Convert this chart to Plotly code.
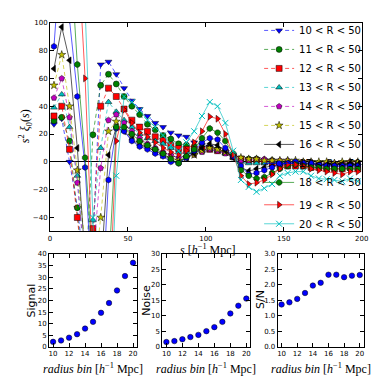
import plotly.graph_objects as go

# separation bins (centres), h^-1 Mpc
s_bins = [2.5, 7.5, 12.5, 17.5, 22.5, 27.5, 32.5, 37.5, 42.5, 47.5,
          52.5, 57.5, 62.5, 67.5, 72.5, 77.5, 82.5, 87.5, 92.5, 97.5,
          102.5, 107.5, 112.5, 117.5, 122.5, 127.5, 132.5, 137.5, 142.5, 147.5,
          152.5, 157.5, 162.5, 167.5, 172.5, 177.5, 182.5, 187.5, 192.5, 197.5]

r_min = [10, 11, 12, 13, 14, 15, 16, 17, 18, 19, 20]

# s^2 xi_0(s) for each R_min < R < 50 sample
xi_10 = [27, 31, 0, -33, -80, -60, 70, 72, 63, 53, 44, 38, 33, 28, 25, 21, 19,
         18, 14, 12, 11, 9, 7, 5,
         3, 2, 2, 1, 0, -1, -1, -2, -2, -2, -3, -2, -3, -3, -2, -3]
xi_11 = [29.5, 32, 15, -33, -90, 19.5, 55, 63, 56, 47, 40, 34, 27, 23, 19, 16.4, 13,
         12, 11, 10, 10, 9, 7, 4,
         2, 2, 2, 1, 1, 0, 0, 0, -1, -1, -1, -2, -2, -1, -2, -2]
xi_12 = [33, 40, 9, -40, -90, -48, 40, 53, 47, 38, 30, 25, 21.8, 18, 15.3, 12, 9.6,
         9, 9, 9, 9, 8, 7, 4,
         2, 1, 1, 0, -1, -2, -3, -3, -3, -4, -4, -5, -5, -5, -4, -5]
xi_13 = [39, 48.5, 25, -10, -80, -42, 10, 43, 36, 30, 25, 20, 17, 15, 13, 10, 7,
         7, 7, 8, 9, 8, 6, 3,
         0, -1, -1, -1, 0, 0, 1, 0, -1, -1, -1, -1, -2, -1, -1, -1]
xi_14 = [46, 60, 32, -15, -75, -70, -4.5, 30, 34, 28, 22, 17, 13, 10, 7, 5, 3,
         4, 5, 7, 9, 8, 6, 3,
         1, 1, 2, 2, 1, 1, 1, 0, 0, 0, -1, -1, -1, -1, 0, -1]
xi_15 = [55, 77, 40, -6, -60, -90, -40, 22, 29, 24, 19, 14, 11, 8, 5, 3, 1,
         3, 5, 8, 10, 9, 7, 4,
         3, 2, 2, 1, 1, 1, 1, 1, 0, 0, 0, 0, -1, 0, 0, 0]
xi_16 = [67, 97, 73, 10, -70, -110, -80, 5, 25, 22, 16, 12, 10.5, 8, 5.4, 1, -0.5,
         3, 6, 10, 13, 12, 8, 3,
         -4, -6.5, -5, -4, -3, -2, -1, -1, -1, -1, -2, -2, -2, -2, -1, -2]
xi_17 = [83, 160, 102, 47, -4, -100, -120, -13, 24, 22, 15, 11, 9, 6, 4, 0, -1,
         3, 8, 14, 17, 16, 10, 4,
         -3, -9, -8, -6, -4, -2, -1, 0, -1, -1, -2, -3, -3, -3, -3, -3]
xi_18 = [120, 200, 160, 70, 3, -100, -150, -80, 25, 25, 20, 15, 12, 9, 6, 2, -1,
         4, 9, 17, 24, 21, 15, 6,
         -6, -10, -12, -11, -8, -5, -3, -2, -3, -4, -4, -5, -5, -5, -5, -5]
xi_19 = [150, 250, 250, 160, 60, -80, -180, -120, 15, 37.5, 28, 21, 18, 14, 10, 7, 5,
         8, 14, 22, 32.5, 31, 20, 5,
         -10, -16, -15, -13, -9, -5, -2, -2, -3, -5, -6, -7, -8, -9, -7, -7]
xi_20 = [200, 300, 300, 220, 110, -40, -200, -150, -10, 47, 43, 37, 30, 25, 19, 12, 7.7,
         14, 22, 33, 43, 40, 28, 8,
         -13, -18, -21.5, -19, -16, -10, -8, -7, -7, -10, -12, -12.5, -13, -14, -12, -14]

xi_all = [xi_10, xi_11, xi_12, xi_13, xi_14, xi_15, xi_16, xi_17, xi_18, xi_19, xi_20]

# bottom panels
radius_bin = [10, 11, 12, 13, 14, 15, 16, 17, 18, 19, 20]
signal = [2.2, 2.8, 4.0, 5.5, 7.9, 10.8, 14.7, 18.9, 24.3, 30.5, 36.2]
noise = [1.6, 1.9, 2.5, 3.2, 3.9, 5.1, 6.4, 8.1, 10.8, 13.3, 15.6]
snr = [1.37, 1.44, 1.55, 1.74, 1.98, 2.07, 2.33, 2.33, 2.25, 2.30, 2.32]

colors = ['#0000ff', '#008000', '#ff0000', '#00bfbf', '#bf00bf', '#bfbf00',
          '#000000', '#0000ff', '#008000', '#ff0000', '#00bfbf']
symbols = ['triangle-down', 'circle', 'square', 'triangle-up', 'pentagon', 'star',
           'triangle-left', 'hexagon', 'octagon', 'triangle-right', 'x-thin']
dashes = ['4px,3px'] * 6 + ['solid'] * 5


def rgba(hexcol, a):
    h = hexcol.lstrip('#')
    return 'rgba(%d,%d,%d,%s)' % (int(h[0:2], 16), int(h[2:4], 16), int(h[4:6], 16), a)


# page body has an 8px margin, so positions on screen are shifted by OFF
W = H = 390.0
OFF = 8


def px(v):
    return (v - OFF) / W


def py(v):
    return 1 - (v - OFF) / H


fig = go.Figure()

for i in range(len(r_min)):
    col = colors[i]
    mk = dict(symbol=symbols[i], size=6, color=col, line=dict(width=0.5, color='black'))
    if symbols[i] == 'x-thin':
        mk = dict(symbol='x-thin', size=6, color=col, line=dict(width=1, color=col))
    fig.add_trace(go.Scatter(
        x=s_bins, y=xi_all[i], mode='lines+markers',
        name='%d &lt; R &lt; 50' % r_min[i],
        line=dict(color=rgba(col, 0.65), width=1, dash=dashes[i]),
        marker=mk,
        legend='legend' if i < 9 else 'legend2',
        xaxis='x', yaxis='y'))

dot = dict(size=5.5, color='#0000ff', line=dict(width=0.5, color='black'))
fig.add_trace(go.Scatter(x=radius_bin, y=signal, mode='markers', marker=dot,
                         showlegend=False, xaxis='x2', yaxis='y2'))
fig.add_trace(go.Scatter(x=radius_bin, y=noise, mode='markers', marker=dot,
                         showlegend=False, xaxis='x3', yaxis='y3'))
fig.add_trace(go.Scatter(x=radius_bin, y=snr, mode='markers', marker=dot,
                         showlegend=False, xaxis='x4', yaxis='y4'))

tickfont = dict(family='DejaVu Sans', size=7, color='black')
ax = dict(showline=True, linecolor='black', linewidth=1, mirror='ticks',
          ticks='inside', ticklen=4, tickcolor='black', showgrid=False,
          zeroline=False, tickfont=tickfont)

legfont = dict(family='DejaVu Sans', size=10, color='black')

fig.update_layout(
    width=390, height=390,
    margin=dict(l=0, r=0, t=0, b=0),
    paper_bgcolor='white', plot_bgcolor='white',
    font=dict(family='DejaVu Sans', color='black'),
    xaxis=dict(ax, domain=[px(49), px(368)], range=[0, 200], dtick=50, anchor='y'),
    yaxis=dict(ax, domain=[py(232), py(19)], range=[-50, 100], dtick=20, anchor='x',
               zeroline=True, zerolinecolor='black', zerolinewidth=1),
    xaxis2=dict(ax, domain=[px(48), px(138)], range=[9.5, 20.5], dtick=2, anchor='y2'),
    yaxis2=dict(ax, domain=[py(350), py(255)], range=[0, 40], dtick=5, anchor='x2'),
    xaxis3=dict(ax, domain=[px(164), px(254)], range=[9.5, 20.5], dtick=2, anchor='y3'),
    yaxis3=dict(ax, domain=[py(350), py(255)], range=[0, 30], dtick=5, anchor='x3'),
    xaxis4=dict(ax, domain=[px(282), px(370)], range=[9.5, 20.5], dtick=2, anchor='y4'),
    yaxis4=dict(ax, domain=[py(350), py(255)], range=[0, 3], dtick=0.5, tickformat='.1f',
                anchor='x4'),
    legend=dict(x=px(263), y=py(12), xanchor='left', yanchor='top',
                bgcolor='rgba(0,0,0,0)', font=legfont, itemwidth=30, tracegroupgap=0),
    legend2=dict(x=px(263), y=py(190), xanchor='left', yanchor='top',
                 bgcolor='rgba(0,0,0,0)', font=legfont, itemwidth=30, tracegroupgap=0),
)

serif = dict(family='Liberation Serif', size=12, color='black')
sans = dict(family='DejaVu Sans', size=11, color='black')
notes = [
    dict(x=px(24), y=py(125), text='<i>s</i><sup>2</sup> <i>ξ</i><sub>0</sub>(<i>s</i>)',
         textangle=-90, font=serif),
    dict(x=px(211), y=py(250), text='<i>s</i> [<i>h</i><sup>−1</sup> Mpc]', font=serif),
    dict(x=px(93), y=py(372), text='<i>radius bin</i> [<i>h</i><sup>−1</sup> Mpc]', font=serif),
    dict(x=px(209), y=py(372), text='<i>radius bin</i> [<i>h</i><sup>−1</sup> Mpc]', font=serif),
    dict(x=px(326), y=py(372), text='<i>radius bin</i> [<i>h</i><sup>−1</sup> Mpc]', font=serif),
    dict(x=px(30), y=py(302), text='Signal', textangle=-90, font=sans),
    dict(x=px(148), y=py(302), text='Noise', textangle=-90, font=sans),
    dict(x=px(265), y=py(302), text='S/N', textangle=-90, font=sans),
]
for n in notes:
    n.update(xref='paper', yref='paper', showarrow=False, xanchor='center', yanchor='middle')
fig.update_layout(annotations=notes)

fig.write_html("out.html")
